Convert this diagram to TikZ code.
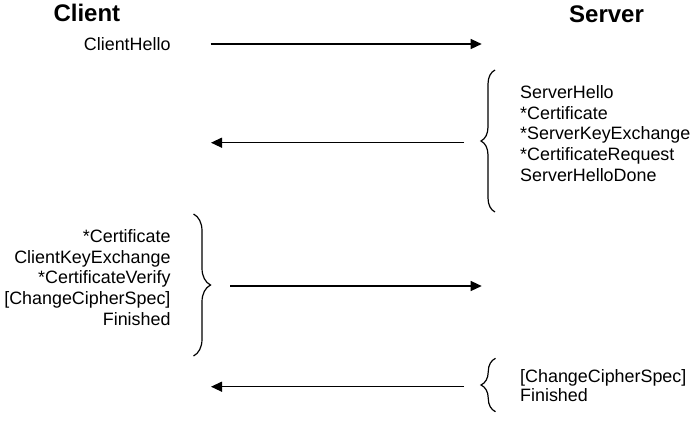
\documentclass[tikz,border=0pt]{standalone}
\usepackage{fontspec}
\setmainfont{Liberation Sans}
\usetikzlibrary{arrows.meta,decorations.pathreplacing}

\begin{document}
\begin{tikzpicture}[x=1pt,y=-1pt,
  party/.style={inner sep=0pt,font=\fontsize{24}{28}\selectfont\bfseries},
  packet/.style={inner sep=0pt,font=\fontsize{17.9}{20.65}\selectfont},
  msg/.style={line width=1.3pt,-{Triangle[length=11pt,width=10pt]}},
  grp/.style={line width=1.2pt,decorate,decoration={brace,amplitude=#1}}]
\useasboundingbox (0,0) rectangle (698,424);
\node[party,anchor=base west] (client) at (53.3,21.7) {Client};
\node[party,anchor=base west] (server) at (569,22) {Server};
\node[packet,anchor=base east] (hello) at (170.7,50) {ClientHello};
\node[packet,anchor=base west,align=left] (srvhello) at (520,181)
  {ServerHello\\*Certificate\\*ServerKeyExchange\\*CertificateRequest\\ServerHelloDone};
\node[packet,anchor=base east,align=right] (keyx) at (170.7,325)
  {*Certificate\\ClientKeyExchange\\*CertificateVerify\\[0pt][ChangeCipherSpec]\\Finished};
\node[packet,anchor=base west,align=left,font=\fontsize{17.9}{18.3}\selectfont] (srvfin) at (520,401)
  {[ChangeCipherSpec]\\Finished};
\coordinate (m1a) at (210.7,44);
\coordinate (m1b) at (481.7,44);
\coordinate (m2a) at (464,142.7);
\coordinate (m2b) at (211,142.7);
\coordinate (m3a) at (230,286);
\coordinate (m3b) at (481.7,286);
\coordinate (m4a) at (464,386.7);
\coordinate (m4b) at (211,386.7);
\draw[msg] (m1a) -- (m1b);
\draw[msg] (m2a) -- (m2b);
\draw[msg] (m3a) -- (m3b);
\draw[msg] (m4a) -- (m4b);
\draw[grp=14pt] (495,212) -- (495,70);
\draw[grp=17pt] (193.5,214) -- (193.5,356);
\draw[grp=14.5pt] (495.5,411.7) -- (495.5,358.3);
\end{tikzpicture}
\end{document}
